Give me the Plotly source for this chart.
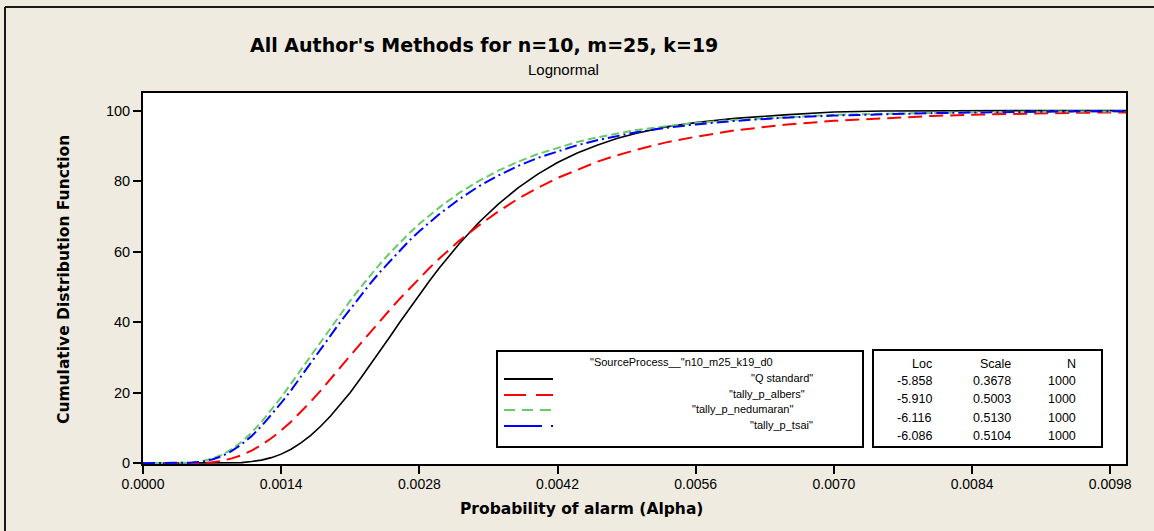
import plotly.graph_objects as go

# ---------------- data ----------------
alpha = [0.0, 0.0004, 0.0005, 0.0006, 0.0007, 0.0008, 0.0009, 0.0010, 0.0011, 0.0012,
         0.0013, 0.0014, 0.0015, 0.0016, 0.0017, 0.0018, 0.0019, 0.0020, 0.0021, 0.0022,
         0.0023, 0.0024, 0.0025, 0.0026, 0.0027, 0.0028, 0.0029, 0.0030, 0.0032, 0.0034,
         0.0036, 0.0038, 0.0040, 0.0042, 0.0044, 0.0046, 0.0048, 0.0050, 0.0053, 0.0056,
         0.0060, 0.0065, 0.0070, 0.0075, 0.0080, 0.0085, 0.0090, 0.0095, 0.00996]

q_standard = [0, 0, 0, 0, 0, 0.0, 0.1, 0.2, 0.5, 0.9,
              1.6, 2.6, 4.0, 5.8, 7.9, 10.5, 13.4, 16.6, 20.1, 23.9,
              27.8, 31.8, 35.8, 39.9, 43.9, 47.8, 51.6, 55.3, 62.1, 68.2,
              73.5, 78.1, 82.0, 85.3, 88.0, 90.2, 92.1, 93.6, 95.4, 96.6,
              97.8, 98.8, 99.6, 99.9, 100, 100, 100, 100, 100]

tally_p_albers = [0, 0, 0, 0.1, 0.3, 0.7, 1.4, 2.3, 3.6, 5.2,
                  7.1, 9.3, 11.8, 14.6, 17.5, 20.6, 23.8, 27.1, 30.5, 33.8,
                  37.1, 40.3, 43.5, 46.6, 49.6, 52.5, 55.3, 58.0, 63.0, 67.4,
                  71.4, 75.0, 78.1, 80.9, 83.3, 85.5, 87.3, 88.9, 91.0, 92.6,
                  94.4, 96.0, 97.1, 97.9, 98.5, 98.9, 99.2, 99.4, 99.5]

tally_p_nedumaran = [0, 0, 0.2, 0.6, 1.3, 2.4, 4.0, 6.1, 8.7, 11.7,
                     15.1, 18.7, 22.6, 26.5, 30.5, 34.6, 38.5, 42.4, 46.1, 49.7,
                     53.2, 56.5, 59.6, 62.5, 65.3, 67.9, 70.3, 72.5, 76.6, 80.0,
                     83.0, 85.5, 87.7, 89.5, 91.1, 92.4, 93.5, 94.5, 95.6, 96.5,
                     97.4, 98.2, 98.8, 99.1, 99.4, 99.6, 99.7, 99.8, 99.8]

tally_p_tsai = [0, 0, 0.2, 0.5, 1.1, 2.0, 3.5, 5.4, 7.7, 10.5,
                13.7, 17.1, 20.7, 24.5, 28.4, 32.3, 36.2, 40.1, 43.8, 47.4,
                50.9, 54.2, 57.3, 60.3, 63.2, 65.8, 68.3, 70.6, 74.8, 78.5,
                81.6, 84.3, 86.6, 88.5, 90.2, 91.6, 92.8, 93.9, 95.1, 96.1,
                97.1, 98.0, 98.6, 99.0, 99.3, 99.5, 99.7, 99.8, 99.8]

series_names = ['"Q standard"', '"tally_p_albers"', '"tally_p_nedumaran"', '"tally_p_tsai"']
table_loc = ["-5.858", "-5.910", "-6.116", "-6.086"]
table_scale = ["0.3678", "0.5003", "0.5130", "0.5104"]
table_n = ["1000", "1000", "1000", "1000"]

x_ticks = [0.0000, 0.0014, 0.0028, 0.0042, 0.0056, 0.0070, 0.0084, 0.0098]
y_ticks = [0, 20, 40, 60, 80, 100]

# ---------------- styling ----------------
FONT = "Liberation Sans"
BOLD = "DejaVu Sans"
W, H = 1154, 531
L, R, T, B = 143, 28, 93, 67
PW, PH = W - L - R, H - T - B


def px(xp):
    return (xp - L) / PW


def py(yp):
    return (H - B - yp) / PH


styles = [
    dict(color="black", width=1.6, dash="solid"),
    dict(color="#FF0000", width=2, dash="14px,7px"),
    dict(color="#66CC66", width=2, dash="8px,4px"),
    dict(color="#0000FF", width=2, dash="12px,4px,2px,4px"),
]
legend_dash = ["solid", "22px,10px", "11px,7px", "38px,9px,2px,9px"]
series = [q_standard, tally_p_albers, tally_p_nedumaran, tally_p_tsai]

fig = go.Figure()
for name, ys, st in zip(series_names, series, styles):
    fig.add_trace(go.Scatter(x=alpha, y=ys, mode="lines", name=name, line=st,
                             hoverinfo="skip"))

fig.update_layout(
    width=W, height=H,
    margin=dict(l=L, r=R, t=T, b=B),
    paper_bgcolor="#EFEBE1",
    plot_bgcolor="white",
    showlegend=False,
    font=dict(family=FONT, size=13, color="black"),
)
fig.update_xaxes(range=[0, 0.00996], tickvals=x_ticks, tickformat=".4f",
                 showgrid=False, zeroline=False, showline=True, linecolor="black",
                 linewidth=2, mirror=True, ticks="outside", ticklen=8, tickwidth=2,
                 tickcolor="black", layer="below traces", ticklabelstandoff=-2,
                 tickfont=dict(family=FONT, size=14))
fig.update_yaxes(range=[-0.2, 105], tickvals=y_ticks, showgrid=False, zeroline=False,
                 showline=True, linecolor="black", linewidth=2, mirror=True,
                 ticks="outside", ticklen=8, tickwidth=2, tickcolor="black",
                 layer="below traces", tickfont=dict(family=FONT, size=14.5))

ann = []
ann.append(dict(text="<b>All Author's Methods for n=10, m=25, k=19</b>", x=px(484), y=py(45),
                font=dict(family=BOLD, size=19)))
ann.append(dict(text="Lognormal", x=px(563), y=py(70), font=dict(size=15)))
ann.append(dict(text="<b>Probability of alarm (Alpha)</b>", x=px(581), y=py(509),
                font=dict(family=BOLD, size=15.5)))
ann.append(dict(text="<b>Cumulative Distribution Function</b>", x=px(64), y=py(280),
                textangle=-90, font=dict(family=BOLD, size=15.5)))

# legend box content
ann.append(dict(text='"SourceProcess__"n10_m25_k19_d0', x=px(681), y=py(362),
                font=dict(size=11)))
leg_rows = [379, 395, 410, 426]
leg_right = [815, 807, 795, 815]
for name, yr, xr in zip(series_names, leg_rows, leg_right):
    ann.append(dict(text=name, x=px(xr), y=py(yr - 1), xanchor="right", font=dict(size=11)))

# stats table
tab_rows = [364, 381, 399, 418, 436]
cols = [(934, ["Loc"] + table_loc), (1013, ["Scale"] + table_scale), (1078, ["N"] + table_n)]
for xr, vals in cols:
    for v, yr in zip(vals, tab_rows):
        ann.append(dict(text=v, x=px(xr), y=py(yr), xanchor="right", font=dict(size=12.5)))

for a in ann:
    a.setdefault("xanchor", "center")
    a.update(xref="paper", yref="paper", showarrow=False, yanchor="middle")
    fig.add_annotation(**a)

shapes = []
# outer frame (top and left edges)
shapes.append(dict(type="line", x0=px(5), x1=px(W + 5), y0=py(7), y1=py(7),
                   line=dict(color="#1a1a1a", width=2)))
shapes.append(dict(type="line", x0=px(5), x1=px(5), y0=py(7), y1=py(H + 5),
                   line=dict(color="#1a1a1a", width=2)))
# legend box and table box
shapes.append(dict(type="rect", x0=px(497), x1=px(863), y0=py(351), y1=py(447),
                   line=dict(color="black", width=2), fillcolor="white"))
shapes.append(dict(type="rect", x0=px(873), x1=px(1102), y0=py(350), y1=py(447),
                   line=dict(color="black", width=2), fillcolor="white"))
# legend samples
for st, dash, yr in zip(styles, legend_dash, leg_rows):
    shapes.append(dict(type="line", x0=px(504), x1=px(553), y0=py(yr), y1=py(yr),
                       line=dict(color=st["color"], width=2, dash=dash)))
for s in shapes:
    s.update(xref="paper", yref="paper")
    fig.add_shape(**s)

fig.write_html("out.html", config={"displayModeBar": False},
               post_script="document.body.style.margin='0px';document.body.style.background='#EFEBE1';")
